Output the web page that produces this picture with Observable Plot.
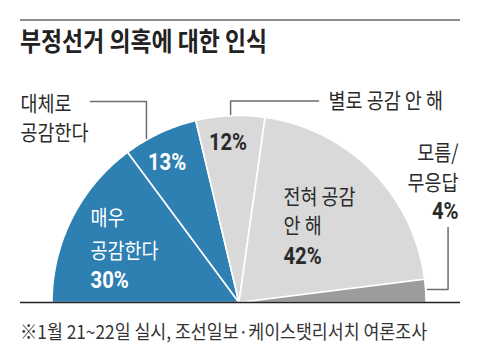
<!DOCTYPE html>
<html><head><meta charset="utf-8">
<script src="https://cdn.jsdelivr.net/npm/d3@7"></script>
<script src="https://cdn.jsdelivr.net/npm/@observablehq/plot@0.6"></script>
<style>
html,body{margin:0;padding:0;background:#fff;}
body{position:relative;width:480px;height:360px;overflow:hidden;font-family:"Noto Sans CJK KR",sans-serif;}
#rule{position:absolute;left:20px;top:19px;width:440px;height:0;border-top:2px solid #8c8c8c;}
#title{position:absolute;left:20px;top:27px;font-size:26px;line-height:26px;font-weight:700;color:#222;white-space:nowrap;transform:scaleX(0.88);transform-origin:0 0;}
#chart{position:absolute;left:0;top:62px;}
#caption{position:absolute;left:20px;top:321px;font-size:19px;line-height:19px;color:#333;white-space:nowrap;transform:scaleX(0.91);transform-origin:0 0;}
</style>
</head><body>
<div id="rule"></div>
<div id="title">부정선거 의혹에 대한 인식</div>
<div id="chart"></div>
<div id="caption">※1월 21~22일 실시, 조선일보·케이스탯리서치 여론조사</div>
<script>
// ---- data ----
const categories = ["매우 공감한다", "대체로 공감한다", "별로 공감 안 해", "전혀 공감 안 해", "모름/무응답"];
const values = [30, 13, 12, 42, 4];
const labelLines = [["매우", "공감한다"], ["대체로", "공감한다"], ["별로 공감 안 해"], ["전혀 공감", "안 해"], ["모름/", "무응답"]];
const sliceColors = ["#2e80b2", "#2e80b2", "#d9d9d9", "#d9d9d9", "#9c9c9c"];

// ---- layout (pie-radius units, centre of the half pie = 0,0) ----
const nameLayout = [
  {x: -0.794, ys: [0.449, 0.272], anchor: "start", fill: "white"},
  {x: -1.168, ys: [1.061, 0.906], anchor: "start", fill: "#2a2a2a"},
  {x: 0.479, ys: [1.075], anchor: "start", fill: "#2a2a2a"},
  {x: 0.238, ys: [0.561, 0.406], anchor: "start", fill: "#2a2a2a"},
  {x: 1.174, ys: [0.799, 0.639], anchor: "end", fill: "#2a2a2a"}
];
const pctLayout = [
  {x: -0.794, y: 0.115, anchor: "start", fill: "white"},
  {x: -0.385, y: 0.746, anchor: "middle", fill: "white"},
  {x: -0.059, y: 0.853, anchor: "middle", fill: "#2a2a2a"},
  {x: 0.238, y: 0.243, anchor: "start", fill: "#2a2a2a"},
  {x: 1.174, y: 0.484, anchor: "end", fill: "#2a2a2a"}
];
const leaders = [
  {id: 1, pts: [[-0.794, 1.075], [-0.495, 1.075], [-0.495, 0.877]]},
  {id: 2, pts: [[0.425, 1.078], [-0.045, 1.078], [-0.045, 1.005]]},
  {id: 4, pts: [[1.118, 0.401], [1.118, 0.0695], [1.008, 0.0695]]}
];

// ---- build slice outlines from values ----
const total = d3.sum(values);
const slicePts = [];
let cum = 0;
categories.forEach((c, i) => {
  const a0 = cum / total * Math.PI;
  const a1 = (cum + values[i]) / total * Math.PI;
  cum += values[i];
  slicePts.push({category: c, x: 0, y: 0});
  const n = Math.max(4, Math.ceil((a1 - a0) / 0.01));
  for (let k = 0; k <= n; k++) {
    const a = a0 + (a1 - a0) * k / n;
    slicePts.push({category: c, x: -Math.cos(a), y: Math.sin(a)});
  }
  slicePts.push({category: c, x: 0, y: 0});
});

const nameText = [];
labelLines.forEach((lines, i) => {
  lines.forEach((t, j) => nameText.push({text: t, x: nameLayout[i].x, y: nameLayout[i].ys[j], anchor: nameLayout[i].anchor, fill: nameLayout[i].fill}));
});
const pctText = values.map((v, i) => ({text: v + "%", ...pctLayout[i]}));
const leaderPts = leaders.flatMap(l => l.pts.map(([x, y]) => ({id: l.id, x, y})));

const R = 187, cx = 238.5, cy = 240;
const textMarks = (arr, opts) => ["start", "middle", "end"].map(a =>
  Plot.text(arr.filter(d => d.anchor === a), {x: "x", y: "y", text: "text", fill: d => d.fill, textAnchor: a, lineAnchor: "middle", ...opts}));

const chart = Plot.plot({
  width: 480,
  height: 248,
  marginLeft: 20, marginRight: 20, marginTop: 0, marginBottom: 0,
  x: {domain: [-1, 1], range: [cx - R, cx + R], axis: null},
  y: {domain: [0, 1], range: [cy, cy - R], axis: null},
  color: {domain: categories, range: sliceColors},
  marks: [
    Plot.line(slicePts, {x: "x", y: "y", z: "category", fill: "category", stroke: "white", strokeWidth: 1.6, strokeLinejoin: "round"}),
    Plot.line(leaderPts, {x: "x", y: "y", z: "id", stroke: "#6e6e6e", strokeWidth: 1.5}),
    Plot.ruleY([0], {stroke: "#222", strokeWidth: 1.6}),
    ...textMarks(nameText, {fontSize: 21, fontFamily: "Noto Sans CJK KR"}),
    ...textMarks(pctText, {fontSize: 23, fontWeight: "bold", fontFamily: "Roboto, 'Noto Sans CJK KR', sans-serif"})
  ]
});
chart.style.background = "transparent";
chart.style.overflow = "visible";
document.getElementById("chart").appendChild(chart);
for (const t of chart.querySelectorAll("text")) {
  const s = t.textContent.includes("%") ? 0.88 : 0.88;
  const tr = t.getAttribute("transform") || "";
  t.setAttribute("transform", tr + ` scale(${s},1)`);
}
</script>
</body></html>
